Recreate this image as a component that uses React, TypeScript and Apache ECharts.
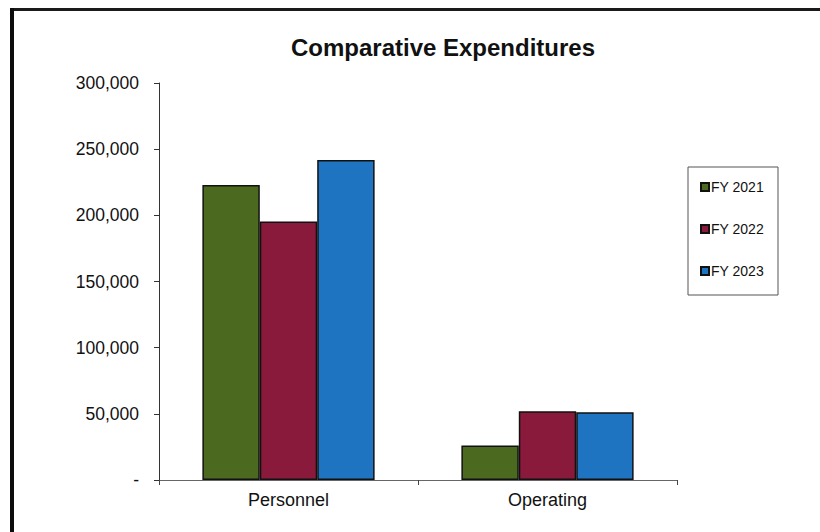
import React, { useEffect, useRef } from "react";
import * as echarts from "echarts";

const categories = ["Personnel", "Operating"];
const seriesNames = ["FY 2021", "FY 2022", "FY 2023"];
const fy2021 = [223000, 26000];
const fy2022 = [195300, 51900];
const fy2023 = [241900, 51200];
const colors = ["#4b6a1f", "#8a1a3b", "#1f74c2"];

const FONT = "'Liberation Sans', Arial, sans-serif";

export default function App() {
  const ref = useRef<HTMLDivElement>(null);

  useEffect(() => {
    if (!ref.current) return;
    const chart = echarts.init(ref.current, undefined, { renderer: "svg" });
    const values = [fy2021, fy2022, fy2023];

    chart.setOption({
      animation: false,
      backgroundColor: "#ffffff",
      textStyle: { fontFamily: FONT },
      title: {
        text: "Comparative Expenditures",
        left: 438,
        top: 30,
        textAlign: "center",
        textStyle: { fontFamily: FONT, fontSize: 24, fontWeight: "bold", color: "#111" },
      },
      grid: { left: 159, right: 143, top: 83, bottom: 52, containLabel: false },
      legend: {
        orient: "vertical",
        left: 700,
        top: 180,
        padding: 0,
        itemWidth: 8,
        itemHeight: 8,
        itemGap: 28,
        icon: "rect",
        data: seriesNames,
        textStyle: { fontFamily: FONT, fontSize: 14, color: "#111", padding: [0, 0, 0, -3] },
      },
      xAxis: {
        type: "category",
        data: categories,
        axisLine: { lineStyle: { color: "#666", width: 1 } },
        axisTick: { show: true, inside: false, length: 5, lineStyle: { color: "#444" } },
        axisLabel: { fontFamily: FONT, fontSize: 18, color: "#111", margin: 11 },
      },
      yAxis: {
        type: "value",
        min: 0,
        max: 300000,
        interval: 50000,
        splitLine: { show: false },
        axisLine: { show: true, lineStyle: { color: "#333", width: 1 } },
        axisTick: { show: true, inside: false, length: 5, lineStyle: { color: "#333" } },
        axisLabel: {
          fontFamily: FONT,
          fontSize: 17.5,
          color: "#111",
          margin: 20,
          formatter: (v: number) => (v === 0 ? "-" : v.toLocaleString("en-US")),
        },
      },
      series: seriesNames.map((name, i) => ({
        name,
        type: "bar",
        data: values[i],
        barGap: "0%",
        barCategoryGap: "33.5%",
        itemStyle: { color: colors[i], borderColor: "#111", borderWidth: 1.5 },
      })),
      graphic: [
        {
          type: "rect",
          shape: { x: 688, y: 167, width: 90, height: 128 },
          style: { fill: "none", stroke: "#555", lineWidth: 1 },
          silent: true,
        },
        {
          type: "rect",
          shape: { x: 10, y: 8, width: 810, height: 3 },
          style: { fill: "#1a1a1a" },
          silent: true,
        },
        {
          type: "rect",
          shape: { x: 10, y: 8, width: 4, height: 524 },
          style: { fill: "#0d0d0d" },
          silent: true,
        },
      ],
    });

    return () => chart.dispose();
  }, []);

  return (
    <div
      ref={ref}
      style={{ position: "fixed", left: 0, top: 0, width: 820, height: 532 }}
    />
  );
}
